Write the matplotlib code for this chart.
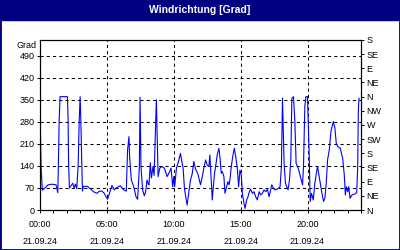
import matplotlib.pyplot as plt
from matplotlib.patches import Rectangle

# Wind direction over one day (hours since midnight, degrees)
hours = [0.02, 0.08, 0.17, 0.38, 0.60, 0.90, 1.20, 1.33, 1.37, 1.43, 1.50, 2.05, 2.10, 2.14, 2.20,
         2.45, 2.55, 2.65, 2.75, 2.85, 2.93, 3.00, 3.05, 3.13, 3.17, 3.25, 3.55, 3.75, 4.00, 4.25,
         4.45, 4.63, 4.80, 5.05, 5.38, 5.55, 5.70, 6.00, 6.25, 6.45, 6.55, 6.65, 6.70, 6.75, 6.83,
         7.00, 7.18, 7.30, 7.43, 7.48, 7.55, 7.67, 7.80, 7.90, 8.00, 8.08, 8.15, 8.25, 8.33, 8.45,
         8.53, 8.65, 8.70, 8.75, 8.83, 8.95, 9.13, 9.30, 9.50, 9.65, 9.80, 9.92, 10.00, 10.07, 10.20,
         10.33, 10.50, 10.60, 10.70, 10.80, 10.93, 11.00, 11.10, 11.25, 11.38, 11.50, 11.63, 11.80,
         12.00, 12.13, 12.25, 12.38, 12.50, 12.63, 12.70, 12.80, 12.88, 12.95, 13.05, 13.13, 13.25,
         13.38, 13.45, 13.55, 13.63, 13.75, 13.83, 13.95, 14.05, 14.13, 14.20, 14.30, 14.43, 14.53,
         14.63, 14.75, 14.85, 14.95, 15.05, 15.13, 15.25, 15.33, 15.45, 15.55, 15.65, 15.75, 15.88,
         16.00, 16.13, 16.25, 16.38, 16.50, 16.63, 16.75, 16.88, 17.00, 17.13, 17.25, 17.33, 17.45,
         17.58, 17.70, 17.83, 17.95, 18.05, 18.13, 18.17, 18.25, 18.35, 18.45, 18.55, 18.65, 18.75,
         18.83, 18.95, 19.05, 19.15, 19.25, 19.38, 19.50, 19.63, 19.70, 19.80, 19.88, 20.00, 20.05,
         20.13, 20.20, 20.30, 20.43, 20.55, 20.68, 20.75, 20.83, 20.95, 21.08, 21.20, 21.30, 21.40,
         21.50, 21.63, 21.75, 21.93, 22.05, 22.15, 22.25, 22.45, 22.63, 22.75, 22.83, 22.90, 23.00,
         23.08, 23.18, 23.33, 23.50, 23.68, 23.75, 23.80, 23.85]
direction = [280, 140, 63, 70, 80, 82, 80, 55, 134, 280, 360, 360, 286, 143, 70,
             85, 70, 82, 68, 140, 280, 360, 290, 140, 60, 75, 75, 68, 58, 53,
             60, 60, 53, 34, 78, 64, 70, 77, 64, 60, 191, 233, 170, 138, 95,
             75, 42, 34, 138, 358, 138, 64, 45, 58, 95, 85, 80, 150, 102, 138,
             110, 280, 350, 260, 106, 133, 138, 133, 106, 118, 133, 74, 106, 74, 133,
             150, 180, 155, 133, 69, 32, 16, 48, 95, 115, 154, 130, 115,
             80, 106, 133, 159, 143, 138, 175, 95, 32, 69, 117, 138, 175,
             196, 170, 117, 122, 106, 53, 74, 90, 80, 95, 138, 175, 196,
             170, 133, 74, 127, 111, 53, 21, 5, 32, 42, 58, 66, 53,
             58, 42, 32, 58, 48, 53, 64, 58, 66, 42, 64, 80, 69,
             64, 66, 69, 74, 138, 355, 286, 148, 85, 74, 64, 95, 159,
             355, 360, 286, 148, 138, 122, 101, 80, 138, 329, 360, 360, 286,
             170, 27, 53, 32, 85, 122, 138, 117, 85, 53, 27, 37, 85,
             159, 191, 249, 281, 260, 212, 202, 196, 164, 111, 48, 74, 58,
             74, 37, 48, 50, 55, 133, 313, 355]

x_ticks = [0, 5, 10, 15, 20]
x_tick_labels = ['00:00', '05:00', '10:00', '15:00', '20:00']
date_label = '21.09.24'
y_ticks = [0, 70, 140, 210, 280, 350, 420, 490]
compass_ticks = list(range(0, 541, 45))
compass_labels = ['N', 'NE', 'E', 'SE', 'S', 'SW', 'W', 'NW', 'N', 'NE', 'E', 'SE', 'S']

navy = '#000080'
plt.rcParams['font.family'] = ['Liberation Sans', 'DejaVu Sans']
fs = 6.5

fig = plt.figure(figsize=(4, 2.5), dpi=100, facecolor='white')
ax = fig.add_axes([0.1, 0.16, 0.8025, 0.68])

# title bar and frame
fig.patches.append(Rectangle((0, 0.92), 1, 0.08, transform=fig.transFigure, color=navy, zorder=0))
fig.patches.append(Rectangle((0, 0), 1, 1, transform=fig.transFigure, fill=False,
                             edgecolor=navy, linewidth=2, zorder=5))
fig.text(0.5, 0.96, 'Windrichtung [Grad]', color='white', fontsize=7.5, fontweight='bold',
         ha='center', va='center')

ax.plot(hours, direction, color='#0000ff', linewidth=0.8, zorder=3)

ax.set_xlim(0, 24)
ax.set_ylim(0, 540)
ax.set_xticks(x_ticks)
ax.set_xticklabels([t + '\n' + date_label for t in x_tick_labels], fontsize=fs)
ax.set_xticks(range(0, 25), minor=True)
ax.set_yticks(y_ticks)
ax.set_yticklabels([str(v) for v in y_ticks], fontsize=fs)
for lbl in ax.get_xticklabels():
    lbl.set_linespacing(2.1)
ax.tick_params(axis='both', which='both', length=2.5, width=0.7, pad=1.5)
ax.tick_params(axis='x', which='both', pad=5)

ax.grid(True, which='major', color='black', linestyle=(0, (3, 3)), linewidth=0.75)
for s in ax.spines.values():
    s.set_linewidth(0.8)

ax.text(-0.01, 0.97, 'Grad', transform=ax.transAxes, ha='right', va='center', fontsize=fs)

ax2 = ax.twinx()
ax2.set_ylim(0, 540)
ax2.set_yticks(compass_ticks)
ax2.set_yticklabels(compass_labels, fontsize=fs)
ax2.tick_params(axis='y', length=2.5, width=0.7, pad=1.5)

fig.savefig('out.png', dpi=100)
